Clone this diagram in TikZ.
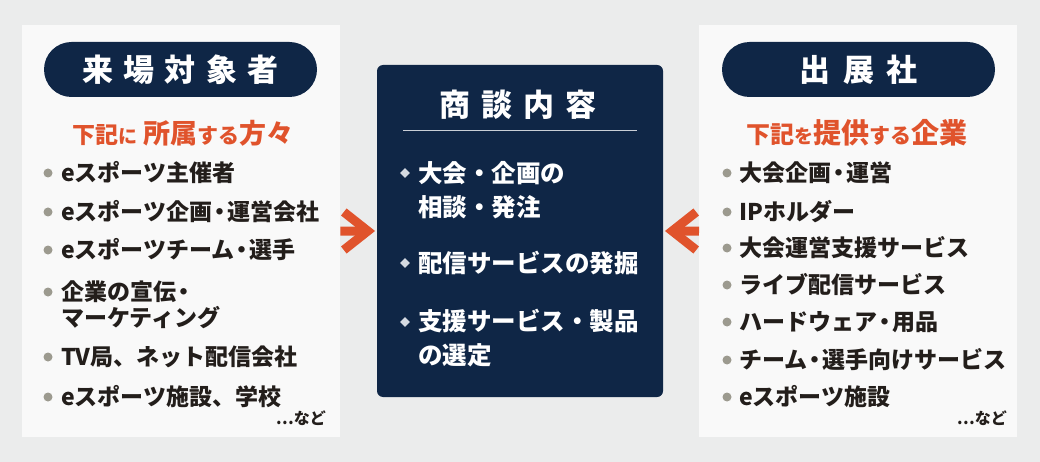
\documentclass[tikz,border=0pt]{standalone}
\usepackage{fontspec}
\setmainfont{Noto Sans CJK JP}
\usetikzlibrary{shapes.geometric,calc}
\definecolor{bgc}{HTML}{EBECEC}
\definecolor{panelc}{HTML}{F9F9F9}
\definecolor{navy}{HTML}{0F2646}
\definecolor{orng}{HTML}{E0532C}
\definecolor{txt}{HTML}{231E1B}
\definecolor{dotc}{HTML}{9C9A8F}
\definecolor{diamc}{HTML}{D5DAE2}
\definecolor{rulec}{HTML}{C9CED6}
\newcommand\mydot{\kern-4pt・\kern-4pt}
\begin{document}
\begin{tikzpicture}[x=1pt,y=-1pt,
  panel/.style={fill=panelc, inner sep=0pt, minimum width=318pt, minimum height=412pt, anchor=north west},
  pill/.style={fill=navy, rounded corners=27.5pt, minimum width=273pt, minimum height=55pt, inner sep=0pt, text=white, font=\bfseries\fontsize{31}{31}\selectfont},
  centerbox/.style={fill=navy, rounded corners=6pt, minimum width=286pt, minimum height=332pt, inner sep=0pt},
  subtitle/.style={text=orng, inner sep=0pt, font=\bfseries},
  item/.style={anchor=west, text=txt, inner sep=0pt, align=left, font=\bfseries\fontsize{23}{26}\selectfont},
  citem/.style={anchor=west, text=white, inner sep=0pt, align=left, font=\bfseries\fontsize{24.5}{34}\selectfont},
  dot/.style={circle, fill=dotc, minimum size=9pt, inner sep=0pt},
  diam/.style={diamond, fill=diamc, minimum size=10pt, inner sep=0pt},
  nado/.style={anchor=east, text=txt, inner sep=0pt, font=\bfseries\fontsize{16}{16}\selectfont},
  arr/.style={draw=orng, line width=9pt},
  arrhead/.style={draw=orng, line width=9pt, miter limit=10}
]
\fill[bgc] (0,0) rectangle (1040,462);
\useasboundingbox (0,0) rectangle (1040,462);

% panels
\node[panel] (lp) at (22,25) {};
\node[panel] (rp) at (699,25) {};

% left side
\node[pill] (lpill) at (180.5,69.5) {来\hspace{10.5pt}場\hspace{10.5pt}対\hspace{10.5pt}象\hspace{10.5pt}者};
\node[subtitle] (lsub) at (182.5,133) {{\fontsize{23}{23}\selectfont 下記}{\fontsize{19}{19}\selectfont に}\hspace{6pt}{\fontsize{27}{27}\selectfont 所属}{\fontsize{21}{21}\selectfont する}{\fontsize{27}{27}\selectfont 方々}};

\node[dot] (ld1) at (48,173) {};
\node[dot] (ld2) at (48,212) {};
\node[dot] (ld3) at (48,250) {};
\node[dot] (ld4) at (48,292) {};
\node[dot] (ld5) at (48,357) {};
\node[dot] (ld6) at (48,397) {};
\node[item] (l1) at (61,173) {eスポーツ主催者};
\node[item] (l2) at (61,212) {eスポーツ企画\mydot 運営会社};
\node[item] (l3) at (61,250) {eスポーツチーム\mydot 選手};
\node[item] (l4) at (61,305) {企業の宣伝\kern-4pt・\\マーケティング};
\node[item] (l5) at (61,357) {TV局、ネット配信会社};
\node[item] (l6) at (61,397) {eスポーツ施設、学校};
\node[nado] (lnado) at (326,418) {…など};

% right side
\node[pill] (rpill) at (858.5,69.5) {出\hspace{13pt}展\hspace{13pt}社};
\node[subtitle] (rsub) at (856.5,133) {{\fontsize{24}{24}\selectfont 下記}{\fontsize{19}{19}\selectfont を}{\fontsize{28}{28}\selectfont 提供}{\fontsize{21}{21}\selectfont する}{\fontsize{28}{28}\selectfont 企業}};

\node[dot] (rd1) at (727,173) {};
\node[dot] (rd2) at (727,212) {};
\node[dot] (rd3) at (727,248) {};
\node[dot] (rd4) at (727,285) {};
\node[dot] (rd5) at (727,322) {};
\node[dot] (rd6) at (727,360) {};
\node[dot] (rd7) at (727,397) {};
\node[item] (r1) at (739,173) {大会企画\mydot 運営};
\node[item] (r2) at (739,212) {IPホルダー};
\node[item] (r3) at (739,248) {大会運営支援サービス};
\node[item] (r4) at (739,285) {ライブ配信サービス};
\node[item] (r5) at (739,322) {ハードウェア\mydot 用品};
\node[item] (r6) at (739,360) {チーム\mydot 選手向けサービス};
\node[item] (r7) at (739,397) {eスポーツ施設};
\node[nado] (rnado) at (1007,418) {…など};

% center
\node[centerbox] (cb) at (520,231) {};
\node[text=white, inner sep=0pt, font=\bfseries\fontsize{31}{31}\selectfont] (ctitle) at (518,105) {商\hspace{11pt}談\hspace{11pt}内\hspace{11pt}容};
\draw[rulec, line width=1.2pt] ($(cb.north west)+(26,66)$) -- ($(cb.north east)+(-26,66)$);
\node[diam] (cd1) at (405,173) {};
\node[diam] (cd2) at (405,263) {};
\node[diam] (cd3) at (405,322) {};
\node[citem] (c1) at (418,190) {大会・企画の\\相談・発注};
\node[citem] (c2) at (418,263) {配信サービスの発掘};
\node[citem] (c3) at (418,338.5) {支援サービス・製品\\の選定};

% arrows
\draw[arr] (lp.east) -- ($(cb.west)+(-8,0)$);
\draw[arrhead] ($(cb.west)+(-33,-19)$) -- ($(cb.west)+(-9,0)$) -- ($(cb.west)+(-33,19)$);
\draw[arr] (rp.west) -- ($(cb.east)+(8,0)$);
\draw[arrhead] ($(cb.east)+(33,-19)$) -- ($(cb.east)+(9,0)$) -- ($(cb.east)+(33,19)$);
\end{tikzpicture}
\end{document}
